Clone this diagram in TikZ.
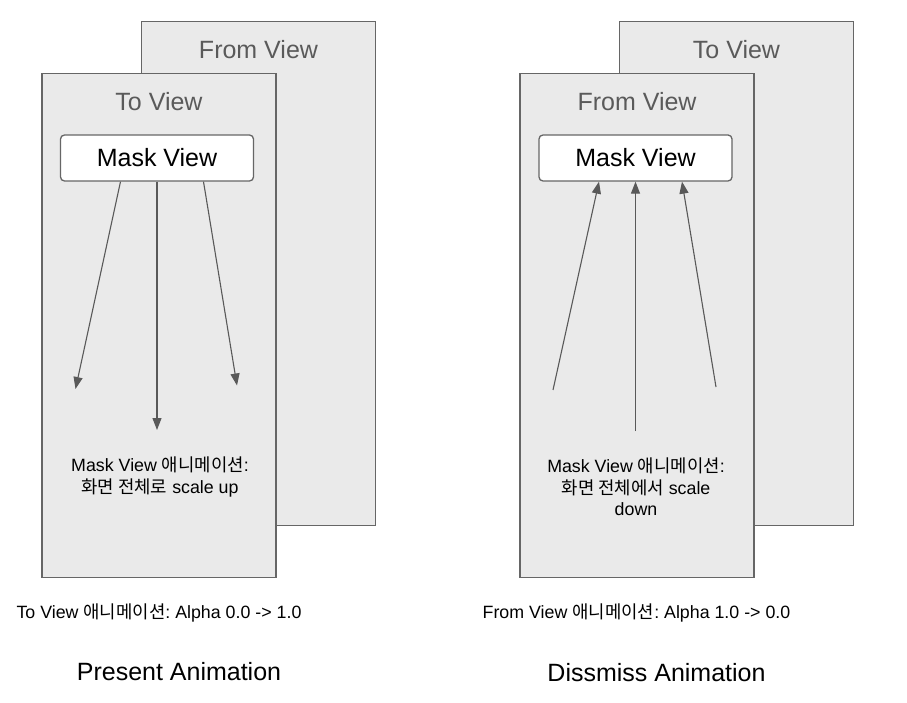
\documentclass[tikz,border=0pt]{standalone}
\usepackage{fontspec}
\setmainfont{Liberation Sans}
\newfontfamily\kr{Noto Sans CJK KR}
\usetikzlibrary{arrows.meta, calc}
\definecolor{viewfill}{HTML}{EAEAEA}
\definecolor{viewline}{HTML}{666666}
\definecolor{titlegray}{HTML}{5A5A5A}
\definecolor{arrowgray}{HTML}{595959}
\frenchspacing

\begin{document}
\begin{tikzpicture}[x=1pt, y=-1pt,
  viewbox/.style={draw=viewline, fill=viewfill, line width=1.3pt, minimum width=234pt, minimum height=504pt, inner sep=0pt},
  viewtitle/.style={text=titlegray, font=\fontsize{25}{30}\selectfont, inner sep=0pt},
  maskbox/.style={draw=viewline, fill=white, rounded corners=4pt, line width=1.3pt, minimum width=193pt, minimum height=46pt, inner sep=0pt, font=\fontsize{25}{30}\selectfont},
  note/.style={align=center, font=\fontsize{17.8}{21.5}\selectfont, inner sep=0pt},
  animcaption/.style={font=\fontsize{25}{30}\selectfont, inner sep=0pt},
  maskarrow/.style={draw=arrowgray, line width=1.1pt, -{Triangle[length=12pt, width=9pt]}}]
  \useasboundingbox (0,0) rectangle (907,703);

  % present animation
  \node[viewbox] (fromL) at (258.5,273.5) {};
  \node[viewtitle] (fromLt) at ([yshift=-28.5pt]fromL.north) {From View};
  \node[viewbox] (toL) at (159,325.5) {};
  \node[viewtitle] (toLt) at ([yshift=-29pt]toL.north) {To View};
  \node[maskbox] (maskL) at (157,158) {Mask View};

  \coordinate (endL1) at (75.5,389);
  \coordinate (endL2) at (157,430);
  \coordinate (endL3) at (237,385.5);
  \draw[maskarrow] ([xshift=-36.5pt]maskL.south) -- (endL1);
  \draw[maskarrow] (maskL.south) -- (endL2);
  \draw[maskarrow] ([xshift=46.5pt]maskL.south) -- (endL3);

  \node[note] (noteL) at (160,477) {Mask View {\kr 애니메이션}:\\{\kr 화면 전체로} scale up};
  \node[note] (alphaL) at (159,613) {To View {\kr 애니메이션}: Alpha 0.0 -> 1.0};
  \node[animcaption] (capL) at (179,672) {Present Animation};

  % dismiss animation
  \node[viewbox] (toR) at (736.5,273.5) {};
  \node[viewtitle] (toRt) at ([yshift=-28.5pt]toR.north) {To View};
  \node[viewbox] (fromR) at (637,325.5) {};
  \node[viewtitle] (fromRt) at ([yshift=-29pt]fromR.north) {From View};
  \node[maskbox] (maskR) at (635.5,158) {Mask View};

  \coordinate (startR1) at (553,390);
  \coordinate (startR2) at (635.5,431);
  \coordinate (startR3) at (716,387);
  \draw[maskarrow] (startR1) -- ([xshift=-36.5pt]maskR.south);
  \draw[maskarrow] (startR2) -- (maskR.south);
  \draw[maskarrow] (startR3) -- ([xshift=46.5pt]maskR.south);

  \node[note] (noteR) at (636,487) {Mask View {\kr 애니메이션}:\\{\kr 화면 전체에서} scale\\down};
  \node[note] (alphaR) at (636.5,613) {From View {\kr 애니메이션}: Alpha 1.0 -> 0.0};
  \node[animcaption] (capR) at (656.5,673) {Dissmiss Animation};
\end{tikzpicture}
\end{document}
